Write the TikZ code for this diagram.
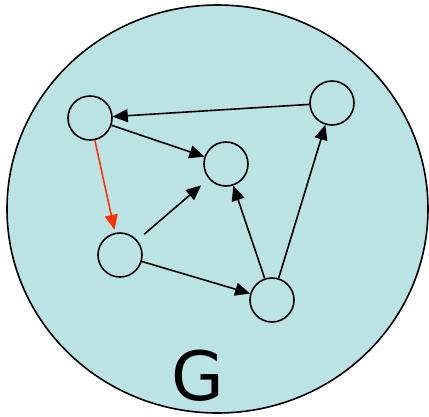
\documentclass[tikz,border=0pt]{standalone}
\usepackage{fontspec}
\newfontfamily\gfont{DejaVu Sans}
\usetikzlibrary{arrows.meta}
\definecolor{bgteal}{RGB}{188,227,228}
\definecolor{redarrow}{RGB}{250,50,10}
\begin{document}
\begin{tikzpicture}[x=1pt,y=-1pt,
  vert/.style={circle,draw=black,line width=1.6pt,minimum size=44pt,inner sep=0pt},
  edge/.style={line width=1.6pt,-{Triangle[length=15pt,width=13pt]}}]
\useasboundingbox (0,0) rectangle (429,416);
\draw[fill=bgteal,line width=1.6pt] (217.5,209) ellipse [x radius=210.5, y radius=204];
\node[vert] (a) at (90,118) {};
\node[vert] (b) at (332,103) {};
\node[vert] (c) at (226,164) {};
\node[vert] (d) at (120,255) {};
\node[vert] (e) at (272,300) {};
\node (g) at (198,376) {\gfont\fontsize{68}{68}\selectfont G};
\draw[edge] (b) -- (a);
\draw[edge] (a) -- (c);
\draw[edge,draw=redarrow,fill=redarrow,shorten >=3pt] (a) -- (d);
\draw[edge,shorten <=9pt,shorten >=10pt] (d) -- (c);
\draw[edge] (d) -- (e);
\draw[edge] (e) -- (c);
\draw[edge] (e) -- (b);
\end{tikzpicture}
\end{document}
